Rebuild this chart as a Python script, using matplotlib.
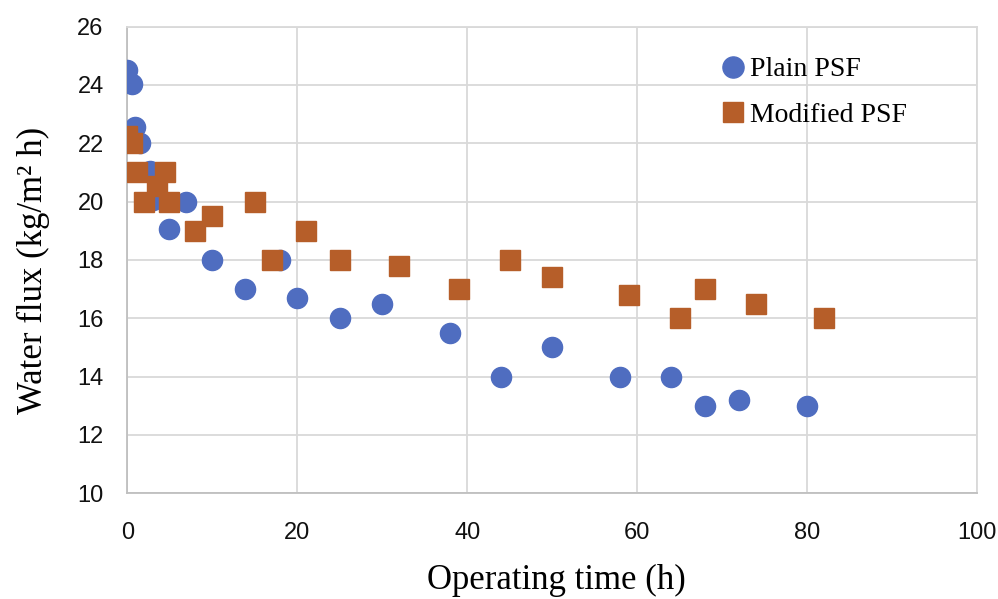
import matplotlib
matplotlib.use('Agg')
from matplotlib import pyplot as plt

# operating time (h) and water flux (kg/m2 h)
plain_t = [0, 0.55, 0.9, 1.5, 2.7, 3, 4.9, 6.9, 10, 13.8, 18, 20, 25, 30, 38, 44, 50, 58, 64, 68, 72, 80]
plain_flux = [24.5, 24.05, 22.55, 22.0, 21.05, 20.05, 19.05, 20.0, 18.0, 17.0, 18.0, 16.7, 16.0, 16.5, 15.5, 14.0, 15.0, 14.0, 14.0, 13.0, 13.2, 13.0]

mod_t = [0, 0.55, 1.1, 2, 3.5, 4.4, 4.9, 8, 10, 15, 17, 21, 25, 32, 39, 45, 50, 59, 65, 68, 74, 82]
mod_flux = [22.25, 22.0, 21.0, 20.0, 20.55, 21.0, 20.0, 19.0, 19.5, 20.0, 18.0, 19.0, 18.0, 17.8, 17.0, 18.0, 17.4, 16.8, 16.0, 17.0, 16.5, 16.0]

xticks = [0, 20, 40, 60, 80, 100]
yticks = [10, 12, 14, 16, 18, 20, 22, 24, 26]

fig = plt.figure(figsize=(9.98, 5.99), dpi=100)
ax = fig.add_axes([0.1276, 0.1765, 0.8514, 0.779])

ax.plot(plain_t, plain_flux, 'o', ms=14.5, color='#4F6DC0', mec='#4F6DC0', label='Plain PSF', zorder=3)
ax.plot(mod_t, mod_flux, 's', ms=13.8, color='#B65E29', mec='#B65E29', label='Modified PSF', zorder=4)

ax.set_xlim(0, 100)
ax.set_ylim(10, 26)
ax.set_xticks(xticks)
ax.set_yticks(yticks)
ax.grid(True, color='#D9D9D9', lw=1.3)
ax.set_axisbelow(True)
for s in ax.spines.values():
    s.set_color('#D9D9D9')
    s.set_linewidth(1.3)
ax.spines['left'].set_color('#BFBFBF')
ax.spines['bottom'].set_color('#BFBFBF')
ax.tick_params(axis='both', length=0, labelsize=17, labelcolor='#111111')
ax.tick_params(axis='x', pad=21)
ax.tick_params(axis='y', pad=17)
for lbl in ax.get_xticklabels() + ax.get_yticklabels():
    lbl.set_fontfamily('Liberation Sans')

ax.set_xlabel('Operating time (h)', fontsize=25, family='Liberation Serif', va='baseline')
ax.xaxis.set_label_coords(0.505, -0.205)
ax.set_ylabel('Water flux (kg/m² h)', fontsize=25, family='Liberation Serif', va='center')
ax.yaxis.set_label_coords(-0.11, 0.478)

leg = ax.legend(loc='upper left', bbox_to_anchor=(0.6996, 0.935), frameon=False,
                prop={'family': 'Liberation Serif', 'size': 20},
                handlelength=0.8, handletextpad=0.2, labelspacing=0.72,
                borderpad=0, borderaxespad=0, markerscale=1.05)

fig.savefig('out.png', dpi=100)
